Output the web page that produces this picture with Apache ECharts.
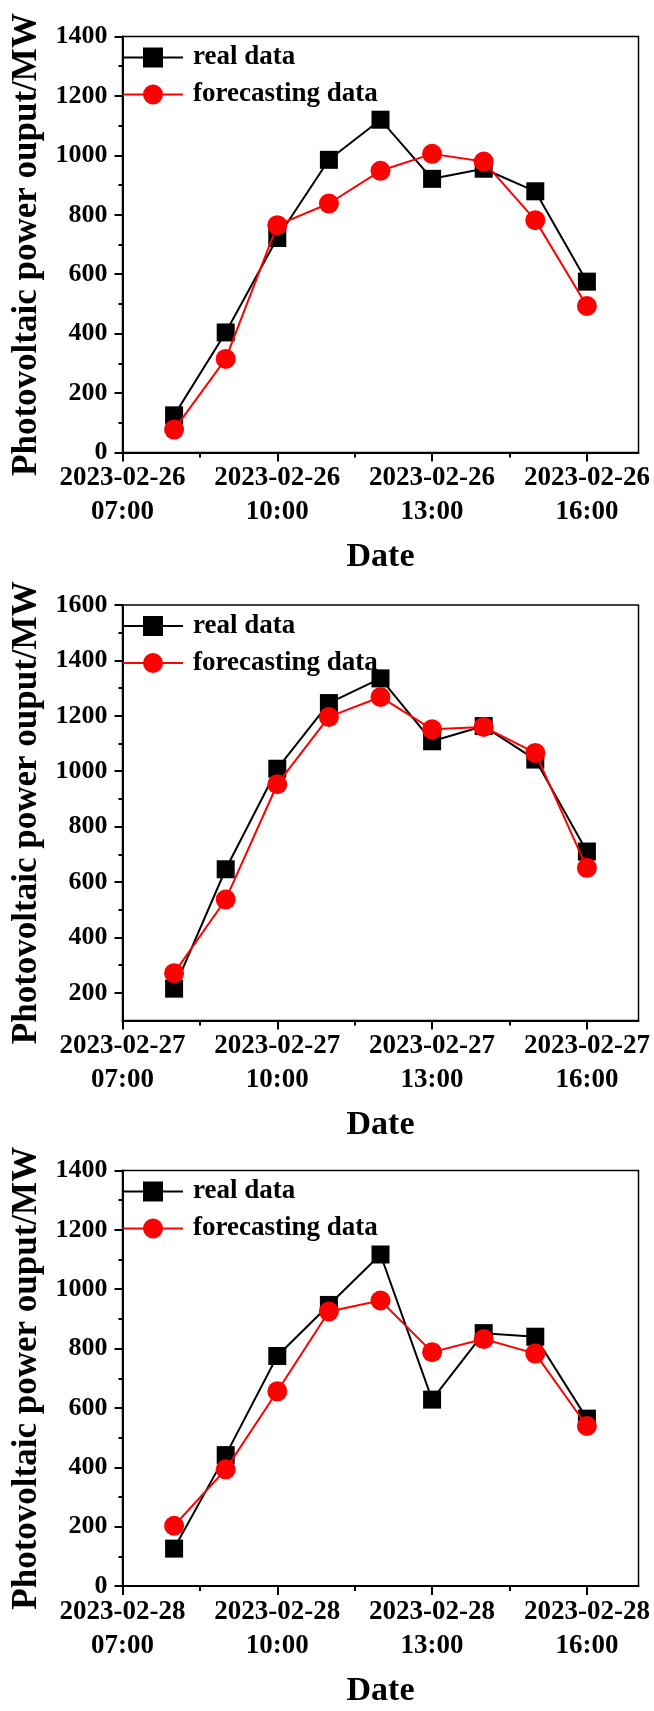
<!DOCTYPE html>
<html>
<head>
<meta charset="utf-8">
<script src="https://cdn.jsdelivr.net/npm/echarts@6/dist/echarts.min.js"></script>
<style>
html,body{margin:0;padding:0;background:#fff;}
#c{width:654px;height:1711px;}
</style>
</head>
<body>
<div id="c"></div>
<script>
// ---- data ----
const hours = [8, 9, 10, 11, 12, 13, 14, 15, 16];
const dates = ['2023-02-26', '2023-02-27', '2023-02-28'];
const tickHours = [7, 10, 13, 16];
const tickTimes = ['07:00', '10:00', '13:00', '16:00'];
const minorHours = [8.5, 11.5, 14.5];

const real1 = [125, 404, 722, 985, 1120, 921, 955, 879, 575];
const fore1 = [77, 315, 765, 838, 948, 1005, 979, 782, 493];
const real2 = [215, 646, 1009, 1246, 1335, 1108, 1163, 1042, 710];
const fore2 = [271, 537, 953, 1196, 1268, 1151, 1160, 1066, 651];
const real3 = [126, 441, 775, 947, 1117, 628, 852, 840, 564];
const fore3 = [203, 393, 656, 925, 962, 788, 832, 783, 539];

const yTicks1 = [0, 200, 400, 600, 800, 1000, 1200, 1400];
const yMinor1 = [100, 300, 500, 700, 900, 1100, 1300];
const yTicks2 = [200, 400, 600, 800, 1000, 1200, 1400, 1600];
const yMinor2 = [300, 500, 700, 900, 1100, 1300, 1500];
const yTicks3 = [0, 200, 400, 600, 800, 1000, 1200, 1400];
const yMinor3 = [100, 300, 500, 700, 900, 1100, 1300];

const yTitle = 'Photovoltaic power ouput/MW';
const xTitle = 'Date';
const realName = 'real data';
const foreName = 'forecasting data';

// ---- layout ----
const panels = [
  { top: 36.5, height: 416, date: dates[0], real: real1, fore: fore1, yMin: 0, yMax: 1400, yTicks: yTicks1, yMinor: yMinor1 },
  { top: 605, height: 415.5, date: dates[1], real: real2, fore: fore2, yMin: 100, yMax: 1600, yTicks: yTicks2, yMinor: yMinor2 },
  { top: 1170.5, height: 415.5, date: dates[2], real: real3, fore: fore3, yMin: 0, yMax: 1400, yTicks: yTicks3, yMinor: yMinor3 }
];

const FONT = 'Liberation Serif';
const grid = [], xAxis = [], yAxis = [], series = [], legend = [];

panels.forEach((p, i) => {
  grid.push({
    left: 122.5, width: 516, top: p.top, height: p.height,
    show: true, borderColor: '#000', borderWidth: 1.5, backgroundColor: 'transparent'
  });
  // main x axis
  xAxis.push({
    type: 'value', gridIndex: i, min: 7, max: 17, position: 'bottom',
    axisLine: { show: true, lineStyle: { color: '#000', width: 2 } },
    axisTick: { show: true, inside: false, length: 9, customValues: tickHours, lineStyle: { color: '#000', width: 2 } },
    axisLabel: {
      show: true, customValues: tickHours, margin: 9,
      color: '#000', fontFamily: FONT, fontWeight: 'bold', fontSize: 27, lineHeight: 34,
      formatter: (v) => {
        const k = tickHours.indexOf(Math.round(v));
        return k >= 0 ? p.date + '\n' + tickTimes[k] : '';
      }
    },
    splitLine: { show: false },
    name: xTitle, nameLocation: 'middle', nameGap: 88,
    nameTextStyle: { color: '#000', fontFamily: FONT, fontWeight: 'bold', fontSize: 34 }
  });
  // minor x ticks
  xAxis.push({
    type: 'value', gridIndex: i, min: 7, max: 17, position: 'bottom',
    axisLine: { show: false },
    axisTick: { show: true, inside: false, length: 5, customValues: minorHours, lineStyle: { color: '#000', width: 2 } },
    axisLabel: { show: false },
    splitLine: { show: false }
  });
  // main y axis
  yAxis.push({
    type: 'value', gridIndex: i, min: p.yMin, max: p.yMax, position: 'left',
    axisLine: { show: true, lineStyle: { color: '#000', width: 2 } },
    axisTick: { show: true, inside: false, length: 8, customValues: p.yTicks, lineStyle: { color: '#000', width: 2 } },
    axisLabel: {
      show: true, customValues: p.yTicks, margin: 15,
      color: '#000', fontFamily: FONT, fontWeight: 'bold', fontSize: 26,
      formatter: (v) => String(Math.round(v))
    },
    splitLine: { show: false },
    name: yTitle, nameLocation: 'middle', nameGap: 74,
    nameTextStyle: { color: '#000', fontFamily: FONT, fontWeight: 'bold', fontSize: 35 }
  });
  // minor y ticks
  yAxis.push({
    type: 'value', gridIndex: i, min: p.yMin, max: p.yMax, position: 'left',
    axisLine: { show: false },
    axisTick: { show: true, inside: false, length: 4, customValues: p.yMinor, lineStyle: { color: '#000', width: 2 } },
    axisLabel: { show: false },
    splitLine: { show: false }
  });

  series.push({
    name: realName + (i ? ' ' + i : ''),
    type: 'line', xAxisIndex: 2 * i, yAxisIndex: 2 * i,
    data: hours.map((h, k) => [h, p.real[k]]),
    symbol: 'rect', symbolSize: 18,
    itemStyle: { color: '#000' },
    lineStyle: { color: '#000', width: 2 },
    z: 2
  });
  series.push({
    name: foreName + (i ? ' ' + i : ''),
    type: 'line', xAxisIndex: 2 * i, yAxisIndex: 2 * i,
    data: hours.map((h, k) => [h, p.fore[k]]),
    symbol: 'circle', symbolSize: 20,
    itemStyle: { color: '#ff0000' },
    lineStyle: { color: '#ff0000', width: 2 },
    z: 3
  });

  legend.push({
    orient: 'vertical', left: 122, top: p.top + 7.5, padding: 0,
    itemWidth: 60, itemHeight: 25, itemGap: 10,
    data: [realName + (i ? ' ' + i : ''), foreName + (i ? ' ' + i : '')],
    formatter: (n) => n.replace(/ \d$/, ''),
    textStyle: { color: '#000', fontFamily: FONT, fontWeight: 'bold', fontSize: 27, lineHeight: 25, padding: [0, 0, 0, 5] },
    selectedMode: false
  });
});

const chart = echarts.init(document.getElementById('c'), null, { renderer: 'canvas' });
chart.setOption({
  animation: false,
  backgroundColor: '#fff',
  grid, xAxis, yAxis, series, legend
});
</script>
</body>
</html>
